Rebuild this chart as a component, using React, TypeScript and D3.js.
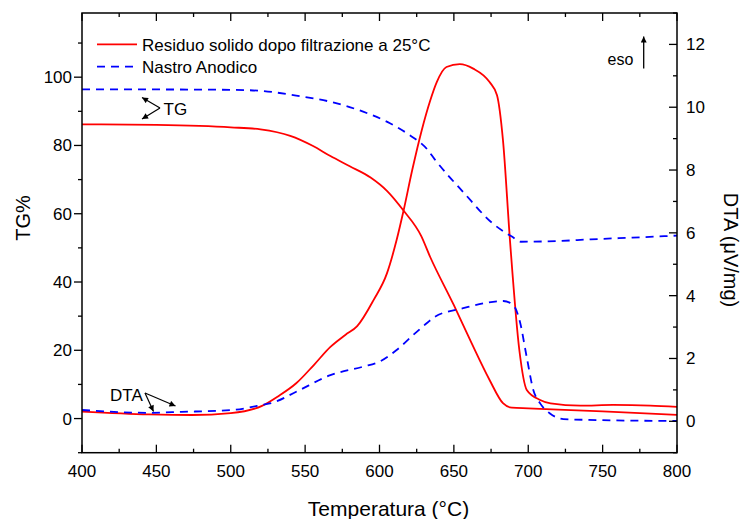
import React from "react";
import * as d3 from "d3";

// Temperature (°C) and values
const tgRedT = [400, 450, 500, 520, 540, 555, 567, 580, 594, 605, 616, 628, 634, 650, 662, 674, 683, 689, 700, 750, 800];
const tgRedV = [86.2, 86.0, 85.3, 84.7, 82.8, 79.9, 76.9, 73.9, 70.6, 66.7, 61.0, 53.5, 47.4, 33.2, 22.0, 11.3, 4.5, 3.2, 3.0, 2.1, 1.1];

const tgBlueT = [400, 450, 500, 520, 544, 567, 589, 607, 620, 632, 637, 657, 676, 689, 695, 720, 742, 770, 800];
const tgBlueV = [96.4, 96.4, 96.3, 96.0, 94.6, 92.8, 89.9, 86.5, 83.1, 78.9, 76.0, 66.0, 57.2, 53.3, 51.8, 52.0, 52.5, 53.0, 53.6];

const dtaRedT = [400, 445, 474, 500, 521, 532, 544, 556, 567, 577, 585, 596, 605, 611.5, 616, 622, 628.4, 634, 638.5, 645, 654, 663, 674, 679, 683, 687.7, 694, 699, 708, 715, 735, 757, 782, 800];
const dtaRedV = [0.31, 0.22, 0.2, 0.26, 0.49, 0.8, 1.21, 1.8, 2.37, 2.75, 3.03, 3.86, 4.71, 5.77, 6.67, 8.0, 9.27, 10.2, 10.8, 11.28, 11.37, 11.23, 10.8, 10.38, 8.95, 5.77, 2.27, 1.0, 0.68, 0.57, 0.5, 0.52, 0.5, 0.46];

const dtaBlueT = [400, 445, 467, 501, 521, 528, 544, 567, 589, 600, 611.5, 622.7, 631.7, 637.3, 656.3, 683.2, 689.9, 694.4, 698.9, 703.4, 708, 714.6, 723.6, 746, 800];
const dtaBlueV = [0.36, 0.27, 0.3, 0.36, 0.52, 0.59, 0.94, 1.47, 1.74, 1.9, 2.27, 2.75, 3.12, 3.33, 3.6, 3.83, 3.7, 3.17, 2.06, 1.0, 0.57, 0.25, 0.07, 0.04, 0.01];

const xTicks = [400, 450, 500, 550, 600, 650, 700, 750, 800];
const leftTicks = [0, 20, 40, 60, 80, 100];
const rightTicks = [0, 2, 4, 6, 8, 10, 12];

const seriesNames = ["Residuo solido dopo filtrazione a 25°C", "Nastro Anodico"];

export default function App() {
  const W = 742, H = 519;
  const L = 82, R = 677, T = 13, B = 452.7;
  const x = d3.scaleLinear().domain([400, 800]).range([L, R]);
  const yL = d3.scaleLinear().domain([-10, 118.8]).range([B, T]);
  const yR = d3.scaleLinear().domain([-1, 13]).range([B, T]);

  const mk = (xs: number[], vs: number[], ys: d3.ScaleLinear<number, number>) =>
    d3.line<number>().x((d, i) => x(xs[i])).y((d, i) => ys(vs[i])).curve(d3.curveMonotoneX)(vs) || "";

  const font = "Arial, 'Liberation Sans', Helvetica, sans-serif";
  const xMinor = d3.range(400, 801, 25);
  const lMinor = d3.range(-10, 119, 10);
  const rMinor = d3.range(-1, 14, 1);

  return (
    <svg width={W} height={H} style={{ position: "absolute", left: 0, top: 0 }} fontFamily={font}>
      <defs>
        <marker id="ah" viewBox="0 0 10 10" refX="10" refY="5" markerWidth="7" markerHeight="6" orient="auto" markerUnits="userSpaceOnUse">
          <path d="M0,0 L10,5 L0,10 z" fill="black" />
        </marker>
      </defs>
      <rect x={0} y={0} width={W} height={H} fill="white" />
      {/* curves */}
      <path d={mk(tgRedT, tgRedV, yL)} fill="none" stroke="#ff0000" strokeWidth={1.8} />
      <path d={mk(dtaRedT, dtaRedV, yR)} fill="none" stroke="#ff0000" strokeWidth={1.8} />
      <path d={mk(tgBlueT, tgBlueV, yL)} fill="none" stroke="#0000ff" strokeWidth={1.8} strokeDasharray="8,6" />
      <path d={mk(dtaBlueT, dtaBlueV, yR)} fill="none" stroke="#0000ff" strokeWidth={1.8} strokeDasharray="8,6" />

      {/* frame */}
      <rect x={L} y={T} width={R - L} height={B - T} fill="none" stroke="black" strokeWidth={1.5} />
      {/* bottom ticks (inward) */}
      {xMinor.map((t) => (
        <line key={"xb" + t} x1={x(t)} x2={x(t)} y1={B} y2={B - (t % 50 === 0 ? 8 : 4)} stroke="black" strokeWidth={1.3} />
      ))}
      {xMinor.map((t) => (
        <line key={"xt" + t} x1={x(t)} x2={x(t)} y1={T} y2={T + (t % 50 === 0 ? 8 : 4)} stroke="black" strokeWidth={1.3} />
      ))}
      {xTicks.map((t) => (
        <text key={"xl" + t} x={x(t)} y={477} fontSize={17} textAnchor="middle">{t}</text>
      ))}
      {/* left ticks (outward) */}
      {lMinor.map((t) => (
        <line key={"lt" + t} x1={L} x2={L - (t % 20 === 0 ? 8 : 4)} y1={yL(t)} y2={yL(t)} stroke="black" strokeWidth={1.3} />
      ))}
      {leftTicks.map((t) => (
        <text key={"ll" + t} x={72} y={yL(t) + 6} fontSize={17} textAnchor="end">{t}</text>
      ))}
      {/* right ticks (inward) */}
      {rMinor.map((t) => (
        <line key={"rt" + t} x1={R} x2={R - (t % 2 === 0 ? 8 : 4)} y1={yR(t)} y2={yR(t)} stroke="black" strokeWidth={1.3} />
      ))}
      {rightTicks.map((t) => (
        <text key={"rl" + t} x={686} y={yR(t) + 6} fontSize={17} textAnchor="start">{t}</text>
      ))}

      {/* axis titles */}
      <text x={(L + R) / 2 + 9} y={516} fontSize={21} textAnchor="middle">Temperatura (°C)</text>
      <text transform="translate(30,218) rotate(-90)" fontSize={20} textAnchor="middle">TG%</text>
      <text transform="translate(724,250) rotate(90)" fontSize={20} textAnchor="middle">DTA (μV/mg)</text>

      {/* legend */}
      <line x1={97} x2={137} y1={44.3} y2={44.3} stroke="#ff0000" strokeWidth={1.8} />
      <text x={142} y={50.5} fontSize={17}>{seriesNames[0]}</text>
      <line x1={97} x2={137} y1={66.7} y2={66.7} stroke="#0000ff" strokeWidth={1.8} strokeDasharray="8,6" />
      <text x={142} y={73} fontSize={17}>{seriesNames[1]}</text>

      {/* annotations */}
      <text x={163.5} y={114.5} fontSize={17}>TG</text>
      <line x1={160} y1={108} x2={142} y2={97.5} stroke="black" strokeWidth={1.2} markerEnd="url(#ah)" />
      <line x1={160} y1={108} x2={142} y2={119} stroke="black" strokeWidth={1.2} markerEnd="url(#ah)" />

      <text x={110} y={401} fontSize={17}>DTA</text>
      <line x1={145} y1={393} x2={153.5} y2={411.5} stroke="black" strokeWidth={1.2} markerEnd="url(#ah)" />
      <line x1={145} y1={393} x2={175.5} y2={406} stroke="black" strokeWidth={1.2} markerEnd="url(#ah)" />

      <text x={607.5} y={65} fontSize={16}>eso</text>
      <line x1={643.7} y1={68.5} x2={643.7} y2={36.5} stroke="black" strokeWidth={1.3} markerEnd="url(#ah)" />
    </svg>
  );
}
